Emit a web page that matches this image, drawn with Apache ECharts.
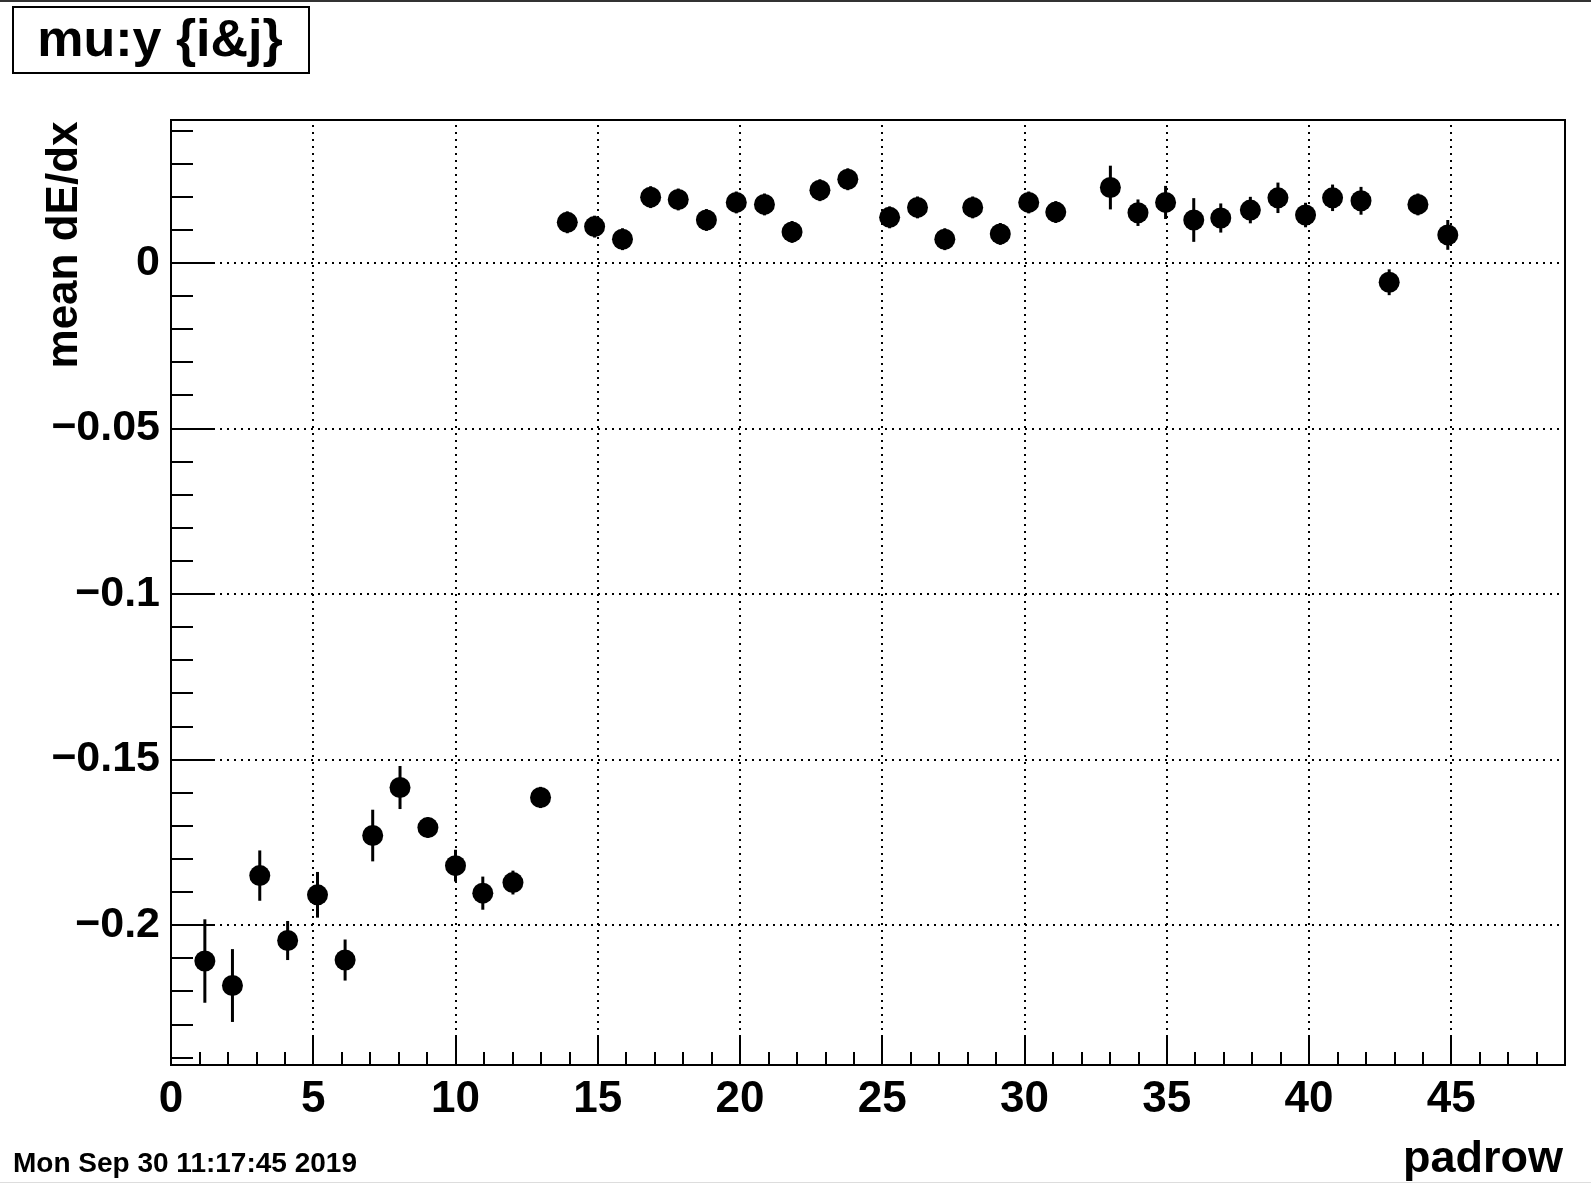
<!DOCTYPE html>
<html>
<head>
<meta charset="utf-8">
<script src="https://cdn.jsdelivr.net/npm/echarts@6/dist/echarts.min.js"></script>
<style>html,body{margin:0;padding:0;background:#fff;}#c{width:1591px;height:1184px;}</style>
</head>
<body>
<div id="c"></div>
<script>
// ---- data ----
const padrow = [1.19, 2.16, 3.12, 4.10, 5.15, 6.12, 7.09, 8.05, 9.03, 10.00, 10.96, 12.02, 12.99,
  13.93, 14.89, 15.87, 16.86, 17.83, 18.82, 19.87, 20.86, 21.83, 22.81, 23.79,
  25.26, 26.24, 27.20, 28.18, 29.15, 30.15, 31.10,
  33.02, 33.99, 34.96, 35.95, 36.90, 37.94, 38.91, 39.88, 40.83, 41.83, 42.82, 43.83, 44.88];
const meanDEdx = [-0.2109, -0.2183, -0.1851, -0.2047, -0.1909, -0.2106, -0.1730, -0.1585, -0.1706, -0.1821, -0.1904, -0.1872, -0.1615,
  0.0122, 0.0109, 0.0071, 0.0198, 0.0191, 0.0129, 0.0182, 0.0176, 0.0093, 0.0219, 0.0252,
  0.0137, 0.0167, 0.0071, 0.0167, 0.0087, 0.0182, 0.0153,
  0.0227, 0.0151, 0.0182, 0.0129, 0.0135, 0.0159, 0.0196, 0.0144, 0.0196, 0.0187, -0.0059, 0.0176, 0.0084];
const errDEdx = [0.0126, 0.0110, 0.0076, 0.0059, 0.0069, 0.0062, 0.0078, 0.0065, 0.0031, 0.0048, 0.0050, 0.0036, 0.0032,
  0.0033, 0.0033, 0.0033, 0.0033, 0.0033, 0.0033, 0.0033, 0.0033, 0.0033, 0.0033, 0.0033,
  0.0033, 0.0033, 0.0033, 0.0033, 0.0033, 0.0033, 0.0033,
  0.0066, 0.0040, 0.0050, 0.0066, 0.0044, 0.0040, 0.0046, 0.0037, 0.0040, 0.0042, 0.0039, 0.0033, 0.0045];

const xMajorTicks = [0, 5, 10, 15, 20, 25, 30, 35, 40, 45];
const xMinorTicks = [1,2,3,4,6,7,8,9,11,12,13,14,16,17,18,19,21,22,23,24,26,27,28,29,31,32,33,34,36,37,38,39,41,42,43,44,46,47,48,49];
const yMajorTicks = [0, -0.05, -0.1, -0.15, -0.2];
const yTickLabels = ['0', '\u22120.05', '\u22120.1', '\u22120.15', '\u22120.2'];
const yMinorTicks = [0.04,0.03,0.02,0.01,-0.01,-0.02,-0.03,-0.04,-0.06,-0.07,-0.08,-0.09,-0.11,-0.12,-0.13,-0.14,-0.16,-0.17,-0.18,-0.19,-0.21,-0.22,-0.23,-0.24];
const X_MIN = 0, X_MAX = 49;
const Y_MIN = -0.2423, Y_MAX = 0.0431;

// ---- chart ----
const chart = echarts.init(document.getElementById('c'), null, {renderer: 'canvas'});
const FONT = '"Liberation Sans", Arial, Helvetica, sans-serif';
const pts = padrow.map((x, i) => [x, meanDEdx[i], errDEdx[i]]);
const gridStyle = {color: '#000', width: 2, type: [2, 5]};
const markData = yMajorTicks.map(v => ({yAxis: v}))
  .concat(xMajorTicks.filter(v => v > X_MIN).map(v => ({xAxis: v})));

function yLabel(v) {
  for (let i = 0; i < yMajorTicks.length; i++) {
    if (Math.abs(yMajorTicks[i] - v) < 1e-9) return yTickLabels[i];
  }
  return '';
}

const option = {
  backgroundColor: '#fff',
  animation: false,
  grid: {left: 171, top: 120, width: 1394, height: 945, show: true, borderColor: '#000', borderWidth: 2, backgroundColor: 'transparent'},
  xAxis: [
    {type: 'value', min: X_MIN, max: X_MAX, position: 'bottom',
     axisLine: {show: true, onZero: false, lineStyle: {color: '#000', width: 2}},
     axisTick: {show: true, inside: true, length: 30, lineStyle: {color: '#000', width: 2}, customValues: xMajorTicks},
     axisLabel: {show: true, customValues: xMajorTicks, margin: 13, color: '#000', fontFamily: FONT, fontWeight: 'bold', fontSize: 44},
     splitLine: {show: false}},
    {type: 'value', min: X_MIN, max: X_MAX, position: 'bottom',
     axisLine: {show: false, onZero: false},
     axisTick: {show: true, inside: true, length: 13, lineStyle: {color: '#000', width: 2}, customValues: xMinorTicks},
     axisLabel: {show: false},
     splitLine: {show: false}}
  ],
  yAxis: [
    {type: 'value', min: Y_MIN, max: Y_MAX, position: 'left',
     axisLine: {show: true, onZero: false, lineStyle: {color: '#000', width: 2}},
     axisTick: {show: true, inside: true, length: 44, lineStyle: {color: '#000', width: 2}, customValues: yMajorTicks},
     axisLabel: {show: true, customValues: yMajorTicks, margin: 11, color: '#000', fontFamily: FONT, fontWeight: 'bold', fontSize: 43, formatter: yLabel},
     splitLine: {show: false}},
    {type: 'value', min: Y_MIN, max: Y_MAX, position: 'left',
     axisLine: {show: false, onZero: false},
     axisTick: {show: true, inside: true, length: 22, lineStyle: {color: '#000', width: 2}, customValues: yMinorTicks},
     axisLabel: {show: false},
     splitLine: {show: false}}
  ],
  series: [
    {type: 'custom', xAxisIndex: 0, yAxisIndex: 0, z: 3, data: pts, encode: {x: 0, y: 1},
     renderItem: function (params, api) {
       const x = api.value(0), y = api.value(1), e = api.value(2);
       const a = api.coord([x, y - e]), b = api.coord([x, y + e]);
       return {type: 'line', shape: {x1: a[0], y1: a[1], x2: b[0], y2: b[1]}, style: {stroke: '#000', lineWidth: 3}};
     },
     markLine: {silent: true, symbol: 'none', label: {show: false}, lineStyle: gridStyle, data: markData, z: 1}
    },
    {type: 'scatter', xAxisIndex: 0, yAxisIndex: 0, z: 4, symbol: 'circle', symbolSize: 21,
     itemStyle: {color: '#000', opacity: 1}, data: pts.map(p => [p[0], p[1]])}
  ],
  graphic: [
    {type: 'rect', left: 0, top: 0, shape: {width: 1591, height: 2}, style: {fill: '#333'}, z: 10},
    {type: 'rect', left: 0, top: 1182, shape: {width: 1591, height: 1}, style: {fill: '#ddd'}, z: 10},
    {type: 'rect', shape: {x: 13, y: 7, width: 296, height: 66}, style: {fill: '#fff', stroke: '#000', lineWidth: 2}, z: 10},
    {type: 'text', x: 160, y: 42, z: 11, style: {text: 'mu:y {i&j}', fill: '#000', font: 'bold 52px ' + FONT, textAlign: 'center', textVerticalAlign: 'middle'}},
    {type: 'text', x: 65, y: 245, rotation: Math.PI / 2, z: 11, style: {text: 'mean dE/dx', fill: '#000', font: 'bold 44px ' + FONT, textAlign: 'center', textVerticalAlign: 'middle'}},
    {type: 'text', x: 1563, y: 1160, z: 11, style: {text: 'padrow', fill: '#000', font: 'bold 45px ' + FONT, textAlign: 'right', textVerticalAlign: 'middle'}},
    {type: 'text', x: 13, y: 1164, z: 11, style: {text: 'Mon Sep 30 11:17:45 2019', fill: '#000', font: 'bold 28px ' + FONT, textAlign: 'left', textVerticalAlign: 'middle'}}
  ]
};
chart.setOption(option);
</script>
</body>
</html>
